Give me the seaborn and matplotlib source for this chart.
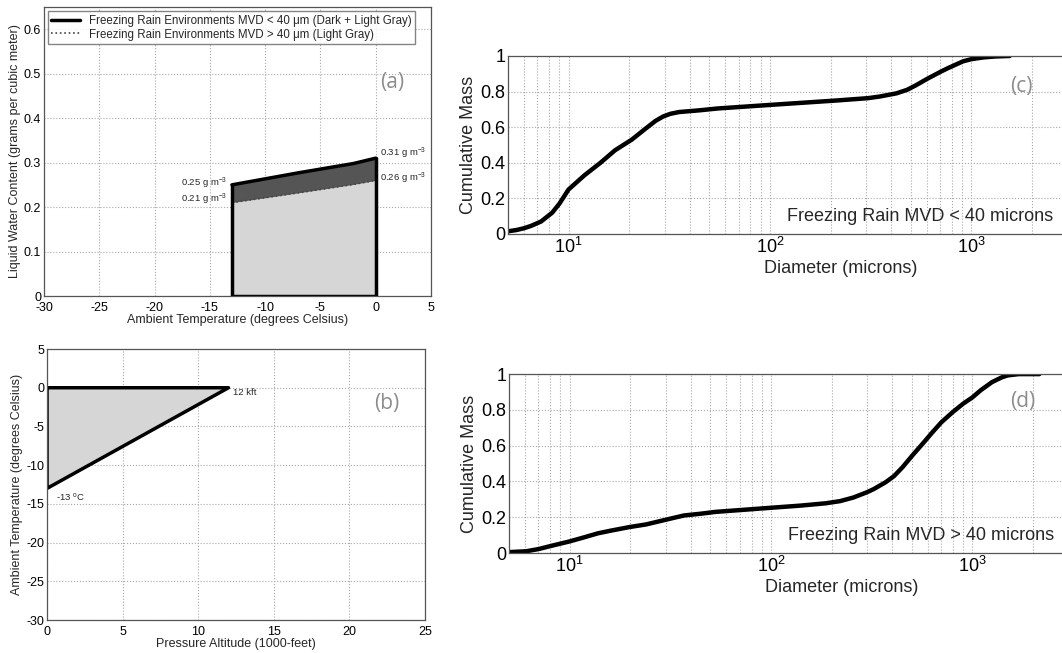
import numpy as np
import pandas as pd
import matplotlib
matplotlib.use("Agg")
import matplotlib.pyplot as plt
from matplotlib.ticker import FixedLocator, FuncFormatter, LogLocator, NullFormatter
import seaborn as sns

# panel (a): LWC envelope vs ambient temperature
temp_a = [-13, -7, -2, 0]
lwc_upper = [0.25, 0.277, 0.298, 0.31]
lwc_lower = [0.21, 0.232, 0.251, 0.26]
notes_a = ["0.25 g m$^{-3}$", "0.21 g m$^{-3}$", "0.31 g m$^{-3}$", "0.26 g m$^{-3}$"]

# panel (b): temperature vs pressure altitude triangle
alt_b = [0, 12, 0]
temp_b = [0, 0, -13]

# panel (c): cumulative mass, MVD < 40 microns
diam_c = [5, 5.5, 6, 6.5, 7.3, 8.3, 9, 10, 12, 14.4, 17, 20.6, 24, 27, 29.5, 32, 35.4,
          45, 55, 100, 215, 307, 350, 425, 480, 530, 600, 700, 760, 850, 910, 1000,
          1150, 1310, 1550]
mass_c = [0.015, 0.022, 0.032, 0.045, 0.07, 0.12, 0.17, 0.25, 0.33, 0.40, 0.47, 0.53,
          0.59, 0.635, 0.66, 0.675, 0.685, 0.695, 0.705, 0.725, 0.75, 0.763, 0.772,
          0.79, 0.81, 0.835, 0.87, 0.91, 0.93, 0.955, 0.97, 0.982, 0.992, 0.997, 1.0]

# panel (d): cumulative mass, MVD > 40 microns
diam_d = [5, 6.1, 7, 8.1, 10, 12, 13.8, 16, 19.8, 24, 28.5, 33, 37, 45, 53, 70, 100,
          140, 187, 220, 256, 300, 323, 370, 408, 450, 503, 570, 633, 700, 797, 900,
          1000, 1100, 1250, 1400, 1500, 1700, 2150]
mass_d = [0.005, 0.01, 0.022, 0.04, 0.065, 0.09, 0.11, 0.125, 0.145, 0.16, 0.18,
          0.197, 0.21, 0.22, 0.23, 0.24, 0.253, 0.265, 0.278, 0.29, 0.31, 0.34, 0.357,
          0.395, 0.43, 0.48, 0.545, 0.615, 0.675, 0.73, 0.787, 0.835, 0.87, 0.91,
          0.955, 0.982, 0.993, 1.0, 1.0]

sns.set_theme(style="white")
plt.rcParams["font.family"] = ["Liberation Sans", "DejaVu Sans"]
plt.rcParams["mathtext.fontset"] = "custom"
plt.rcParams["mathtext.rm"] = "Liberation Sans"
plt.rcParams["mathtext.it"] = "Liberation Sans:italic"
plt.rcParams["axes.unicode_minus"] = False

GRID = dict(color="#a8a8a8", linestyle=":", linewidth=0.8)
TAG = dict(family=["Open Sans", "DejaVu Sans"], color="#8c8c8c")


def style_axes(ax, fs):
    for s in ax.spines.values():
        s.set_color("#555555")
        s.set_linewidth(0.9)
    ax.tick_params(direction="in", length=3, labelsize=fs, colors="#222222",
                   which="both", top=False, right=False, pad=2)
    ax.tick_params(axis="both", which="major", labelcolor="black")


fig = plt.figure(figsize=(10.62, 6.53), dpi=100)

# ---- (a)
ax = fig.add_axes([0.0414, 0.5467, 0.3644, 0.4426])
ax.fill_between(temp_a, 0, lwc_lower, color="#d6d6d6", lw=0)
ax.fill_between(temp_a, lwc_lower, lwc_upper, color="#555555", lw=0)
sns.lineplot(x=temp_a, y=lwc_upper, color="black", lw=2.5, ax=ax,
             label="Freezing Rain Environments MVD < 40 \u03bcm (Dark + Light Gray)")
sns.lineplot(x=temp_a, y=lwc_lower, color="#444444", lw=1.2, ls=":", ax=ax,
             label="Freezing Rain Environments MVD > 40 \u03bcm (Light Gray)")
ax.plot([temp_a[0], temp_a[0]], [0, lwc_upper[0]], color="black", lw=2.5)
ax.plot([temp_a[-1], temp_a[-1]], [0, lwc_upper[-1]], color="black", lw=2.5)
ax.plot([temp_a[0], temp_a[-1]], [0, 0], color="black", lw=2.5)
ax.text(temp_a[0] - 0.4, lwc_upper[0] + 0.003, notes_a[0], ha="right", va="center", fontsize=6.8)
ax.text(temp_a[0] - 0.4, lwc_lower[0] + 0.008, notes_a[1], ha="right", va="center", fontsize=6.8)
ax.text(temp_a[-1] + 0.4, lwc_upper[-1] + 0.01, notes_a[2], ha="left", va="center", fontsize=6.8)
ax.text(temp_a[-1] + 0.4, lwc_lower[-1] + 0.005, notes_a[3], ha="left", va="center", fontsize=6.8)
ax.set_xlim(-30, 5)
ax.set_ylim(0, 0.65)
ax.set_xticks(np.arange(-30, 6, 5))
ax.set_yticks(np.arange(0, 0.61, 0.1))
ax.yaxis.set_major_formatter(FuncFormatter(lambda v, p: f"{v:g}"))
ax.grid(True, **GRID)
style_axes(ax, 9)
ax.tick_params(axis="x", pad=4)
ax.set_xlabel("Ambient Temperature (degrees Celsius)", fontsize=9, labelpad=0)
ax.set_ylabel("Liquid Water Content (grams per cubic meter)", fontsize=9, labelpad=2)
ax.legend(loc="upper left", bbox_to_anchor=(0.01, 0.985), fontsize=8.3, frameon=True,
          fancybox=False, edgecolor="#666666", handlelength=2.5, borderpad=0.3,
          labelspacing=0.15, borderaxespad=0)
ax.text(1.5, 0.48, "(a)", fontsize=15, ha="center", va="center", **TAG)

# ---- (b)
ax = fig.add_axes([0.0443, 0.0505, 0.3559, 0.415])
tri = pd.DataFrame({"alt": alt_b + alt_b[:1], "temp": temp_b + temp_b[:1]})
ax.fill(tri["alt"], tri["temp"], color="#d6d6d6", lw=0)
sns.lineplot(data=tri, x="alt", y="temp", sort=False, estimator=None,
             color="black", lw=2.5, ax=ax)
ax.text(alt_b[1] + 0.3, temp_b[1] - 0.6, "12 kft", fontsize=6.8, ha="left", va="center")
ax.text(alt_b[2] + 0.6, temp_b[2] - 0.3, "-13 $^{\\rm o}$C", fontsize=6.8, ha="left", va="top")
ax.set_xlim(0, 25)
ax.set_ylim(-30, 5)
ax.set_xticks(np.arange(0, 26, 5))
ax.set_yticks(np.arange(-30, 6, 5))
ax.grid(True, **GRID)
style_axes(ax, 9)
ax.tick_params(axis="x", pad=4)
ax.set_xlabel("Pressure Altitude (1000-feet)", fontsize=9, labelpad=0)
ax.set_ylabel("Ambient Temperature (degrees Celsius)", fontsize=9, labelpad=2)
ax.text(22.5, -2, "(b)", fontsize=15, ha="center", va="center", **TAG)

# ---- (c) and (d)
for rect, d, m, note, tag, ty in [
        ([0.4783, 0.6417, 0.626, 0.2726], diam_c, mass_c,
         "Freezing Rain MVD < 40 microns", "(c)", 0.826),
        ([0.4793, 0.1531, 0.626, 0.274], diam_d, mass_d,
         "Freezing Rain MVD > 40 microns", "(d)", 0.845)]:
    ax = fig.add_axes(rect)
    sns.lineplot(x=d, y=m, color="black", lw=3.2, estimator=None, ax=ax)
    ax.set_xscale("log")
    ax.set_xlim(5, 1e4)
    ax.set_ylim(0, 1)
    ax.xaxis.set_major_locator(FixedLocator([10, 100, 1000]))
    ax.xaxis.set_minor_locator(LogLocator(base=10, subs=np.arange(2, 10), numticks=20))
    ax.xaxis.set_minor_formatter(NullFormatter())
    ax.set_yticks(np.arange(0, 1.01, 0.2))
    ax.yaxis.set_major_formatter(FuncFormatter(lambda v, p: f"{v:g}"))
    ax.grid(True, which="both", **GRID)
    style_axes(ax, 13)
    ax.tick_params(which="minor", length=2)
    ax.set_xlabel("Diameter (microns)", fontsize=13, labelpad=2)
    ax.set_ylabel("Cumulative Mass", fontsize=13, labelpad=2)
    ax.text(2550, 0.1, note, fontsize=13, ha="right", va="center")
    ax.text(1770, ty, tag, fontsize=15, ha="center", va="center", **TAG)

fig.savefig("out.png", dpi=100)
